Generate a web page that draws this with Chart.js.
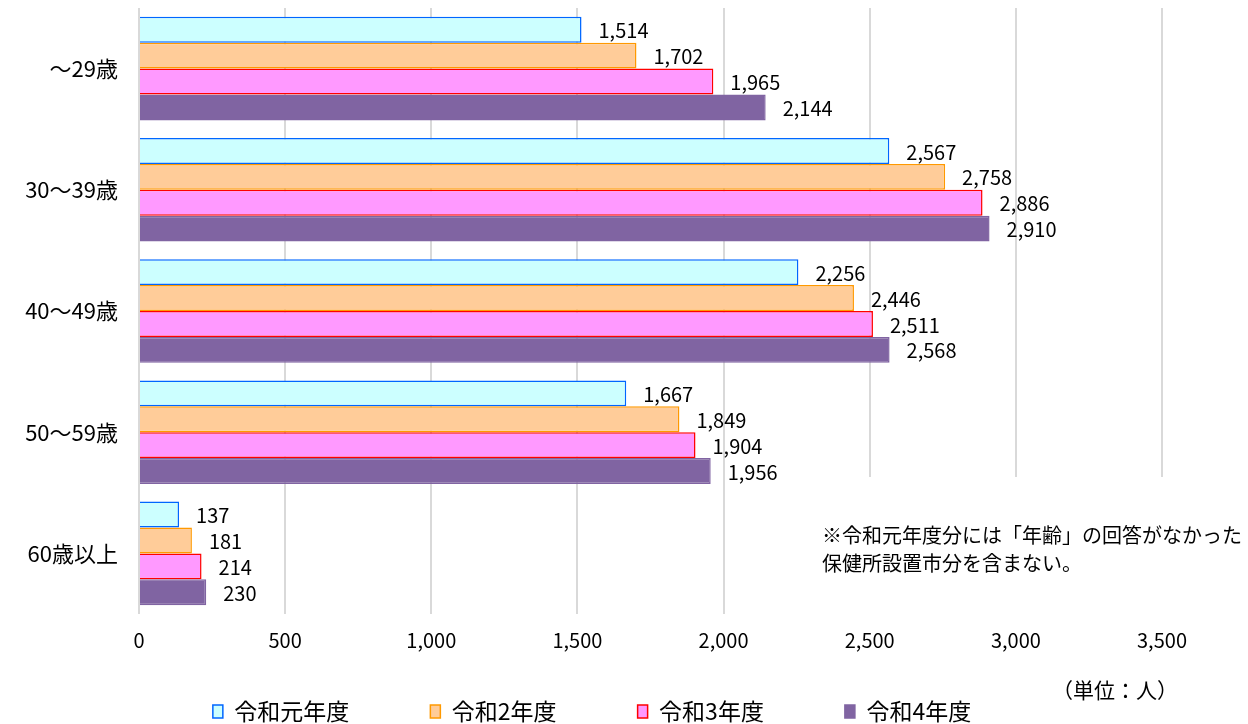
<!DOCTYPE html>
<html>
<head>
<meta charset="utf-8">
<script src="https://cdn.jsdelivr.net/npm/chart.js@4"></script>
<style>
  html, body { margin:0; padding:0; background:#fff; overflow:hidden; }
  #wrap { width:1248px; height:724px; position:relative; }
</style>
</head>
<body>
<div id="wrap"><canvas id="ageChart"></canvas></div>
<script>
const FONT = '"Noto Sans CJK JP", "Noto Sans", sans-serif';

const categories = ['～29歳', '30～39歳', '40～49歳', '50～59歳', '60歳以上'];
const seriesNames = ['令和元年度', '令和2年度', '令和3年度', '令和4年度'];
const r1 = [1514, 2567, 2256, 1667, 137];
const r2 = [1702, 2758, 2446, 1849, 181];
const r3 = [1965, 2886, 2511, 1904, 214];
const r4 = [2144, 2910, 2568, 1956, 230];
const xTicks = [0, 500, 1000, 1500, 2000, 2500, 3000, 3500];
const noteLines = ['※令和元年度分には「年齢」の回答がなかった', '保健所設置市分を含まない。'];
const unitText = '（単位：人）';

const fills = ['#CCFFFF', '#FFCC99', '#FF99FF', '#8064A2'];
const borders = ['#0066FF', '#FF9900', '#FF0000', '#8064A2'];

// value labels to the right of each bar, plus the note box and unit text
const labelPlugin = {
  id: 'barLabels',
  afterDatasetsDraw(chart) {
    const ctx = chart.ctx;
    ctx.save();
    ctx.fillStyle = '#000';
    ctx.font = '20px ' + FONT;
    ctx.textAlign = 'left';
    ctx.textBaseline = 'middle';
    chart.data.datasets.forEach((ds, i) => {
      chart.getDatasetMeta(i).data.forEach((bar, j) => {
        ctx.fillText(ds.data[j].toLocaleString('en-US'), bar.x + 17, bar.y + 1);
      });
    });
    // the note sits in a white box that hides the grid behind it
    ctx.fillStyle = '#fff';
    ctx.fillRect(792, 477, 456, 140);
    ctx.fillStyle = '#000';
    ctx.fillText(noteLines[0], 822, 535);
    ctx.fillText(noteLines[1], 822, 563);
    ctx.font = '21px ' + FONT;
    ctx.fillText(unitText, 1052, 690);
    ctx.restore();
  }
};

const ctx = document.getElementById('ageChart').getContext('2d');
new Chart(ctx, {
  type: 'bar',
  data: {
    labels: categories,
    datasets: seriesNames.map((name, i) => ({
      label: name,
      data: [r1, r2, r3, r4][i],
      backgroundColor: fills[i],
      borderColor: borders[i],
      borderWidth: 1.5,
      categoryPercentage: 0.855,
      barPercentage: 1
    }))
  },
  options: {
    indexAxis: 'y',
    responsive: true,
    maintainAspectRatio: false,
    animation: false,
    layout: { padding: { top: 8, right: 86, left: 22, bottom: -9 } },
    scales: {
      x: {
        min: 0, max: 3500,
        afterBuildTicks: s => { s.ticks = xTicks.map(v => ({ value: v })); },
        afterFit: s => { s.height = 5; s.paddingLeft = 0; s.paddingRight = 0; },
        grid: { color: '#D9D9D9', lineWidth: 2, drawTicks: false },
        border: { display: false },
        ticks: {
          // mirrored so the labels are not clipped to the thin axis box
          mirror: true,
          padding: -38,
          color: '#000',
          font: { family: FONT, size: 20 },
          callback: v => v.toLocaleString('en-US')
        }
      },
      y: {
        afterFit: s => { s.width = 117; s.paddingTop = 0; s.paddingBottom = 0; },
        grid: { display: false, drawTicks: false },
        border: { display: false },
        ticks: {
          padding: 21,
          color: '#000',
          font: { family: FONT, size: 22 }
        }
      }
    },
    plugins: {
      legend: {
        position: 'bottom',
        labels: {
          boxWidth: 10,
          boxHeight: 13,
          padding: 81,
          color: '#000',
          font: { family: FONT, size: 23 }
        }
      },
      tooltip: { enabled: false }
    }
  },
  plugins: [labelPlugin]
});
</script>
</body>
</html>
